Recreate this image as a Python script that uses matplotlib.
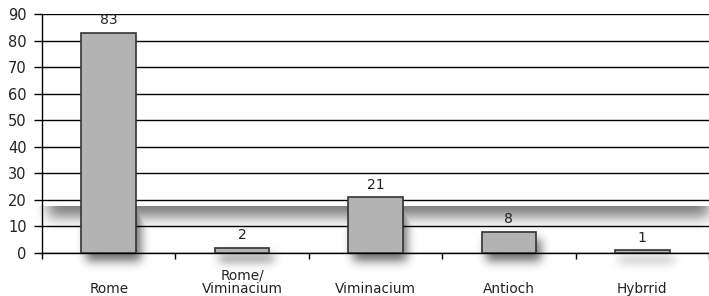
import numpy as np
import matplotlib
matplotlib.use("Agg")
import matplotlib.pyplot as plt

categories = ["Rome", "Rome/\nViminacium", "Viminacium", "Antioch", "Hybrrid"]
counts = [83, 2, 21, 8, 1]
yticks = list(range(0, 100, 10))

W, H = 709, 296
fig = plt.figure(figsize=(W / 100, H / 100), dpi=100)
ax = fig.add_axes([42 / W, 43 / H, (W - 42) / W, 239 / H])
ax.patch.set_visible(False)

x = np.arange(len(categories))
bars = ax.bar(x, counts, width=0.41, color="#b3b3b3", edgecolor="#333333",
              linewidth=1.2, zorder=3)
for xi, v in zip(x, counts):
    ax.annotate(str(v), (xi, v), xytext=(0, 4), textcoords="offset points",
                ha="center", va="bottom", fontsize=10, color="#222222")

# category labels sit bottom-aligned near the figure edge
for xi, name in zip(x, categories):
    ax.annotate(name, (xi, 0), xycoords=ax.get_xaxis_transform(),
                xytext=(0, -43), textcoords="offset pixels",
                ha="center", va="bottom", multialignment="center",
                fontsize=9.8, color="#222222", linespacing=0.92)

ax.set_xlim(-0.5, len(categories) - 0.5)
ax.set_ylim(0, 90)
ax.set_yticks(yticks)
ax.set_xticks(np.arange(-0.5, len(categories), 1.0))
ax.set_xticklabels([])
ax.yaxis.grid(True, color="black", lw=1)
ax.set_axisbelow(True)
ax.tick_params(axis="y", length=6, width=1, pad=5, labelsize=10.5, labelcolor="#222222")
ax.tick_params(axis="x", length=4, width=1)
for s in ["top", "right"]:
    ax.spines[s].set_visible(False)
for s in ["left", "bottom"]:
    ax.spines[s].set_linewidth(1)

# soft drop shadow, only visible below the "floor" line
fig.canvas.draw()
floor_level = 18


def blur(a, s):
    r = int(3 * s)
    k = np.exp(-0.5 * (np.arange(-r, r + 1) / s) ** 2)
    k /= k.sum()
    a = np.apply_along_axis(lambda m: np.convolve(m, k, mode="same"), 0, a)
    a = np.apply_along_axis(lambda m: np.convolve(m, k, mode="same"), 1, a)
    return a


bar_mask = np.zeros((H, W))
dx, dy = 5, 7
for b in bars:
    bb = b.get_window_extent()
    x0, x1 = int(bb.x0) + dx, int(bb.x1) + dx
    y0, y1 = int(bb.y0) - dy, int(bb.y1) - dy
    bar_mask[max(y0, 0):max(y1, 0), x0:x1] = 1
bar_mask = blur(bar_mask, 5)

floor_y = int(ax.transData.transform((0, floor_level))[1])
left = int(ax.transAxes.transform((0, 0))[0])
band_mask = np.zeros((H, W))
band_mask[floor_y - 11:, left + 6:] = 1
band_mask = blur(band_mask, 7)

mask = np.maximum(bar_mask * 1.0, band_mask * 0.9)
mask[floor_y:, :] = 0

rgba = np.zeros((H, W, 4))
rgba[..., 3] = np.clip(mask, 0, 1) * 0.58
fig.figimage(rgba, origin="lower", zorder=-1)

fig.savefig("out.png", dpi=100)
